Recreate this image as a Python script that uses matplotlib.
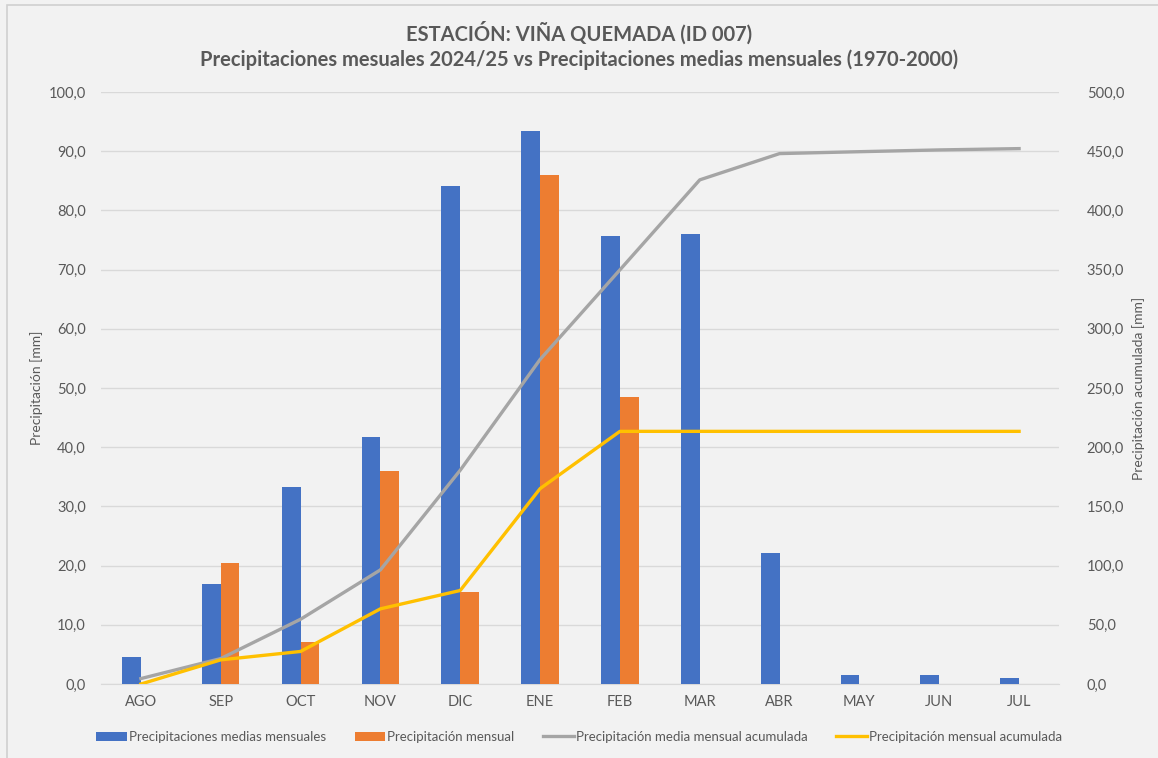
"""Precipitaciones mensuales vs medias, estacion Vina Quemada."""

import numpy as np
import matplotlib
matplotlib.use('Agg')
import matplotlib.pyplot as plt
from matplotlib.ticker import FuncFormatter
from matplotlib.patches import Rectangle

MESES = ['AGO', 'SEP', 'OCT', 'NOV', 'DIC', 'ENE', 'FEB', 'MAR', 'ABR', 'MAY', 'JUN', 'JUL']
MEDIAS = [4.6, 16.9, 33.2, 41.7, 84.2, 93.5, 75.7, 76.0, 22.2, 1.6, 1.5, 1.1]
MENSUAL = [0.0, 20.4, 7.1, 36.0, 15.5, 86.0, 48.4]  # hasta FEB
MENSUAL_ACUM = [0.0, 20.4, 27.5, 63.5, 79.0, 165.0, 213.4, 213.4, 213.4, 213.4, 213.4, 213.4]

AZUL = '#4472C4'
NARANJA = '#ED7D31'
GRIS = '#A5A5A5'
AMARILLO = '#FFC000'
TEXTO = '#595959'
FONDO = '#F2F2F2'

plt.rcParams['font.family'] = ['Lato', 'DejaVu Sans']


def coma(v, _pos):
    return '{:.1f}'.format(v).replace('.', ',')


def main():
    fig = plt.figure(figsize=(11.58, 7.58), dpi=100, facecolor=FONDO)
    fig.patches.append(Rectangle((0.006, -0.01), 1.0, 1.003, transform=fig.transFigure,
                                 fill=False, edgecolor='#D0D0D0', lw=1.2))
    ax = fig.add_axes([0.0872, 0.0976, 0.8273, 0.781])
    ax.set_facecolor(FONDO)
    ax2 = ax.twinx()

    x = np.arange(len(MESES))
    w = 0.235
    medias_acum = np.cumsum(MEDIAS)

    ax.bar(x - w / 2, MEDIAS, w, color=AZUL, label='Precipitaciones medias mensuales', zorder=3)
    ax.bar(x[:len(MENSUAL)] + w / 2, MENSUAL, w, color=NARANJA, label='Precipitación mensual', zorder=3)
    ax2.plot(x, medias_acum, color=GRIS, lw=2.4, label='Precipitación media mensual acumulada')
    ax2.plot(x, MENSUAL_ACUM, color=AMARILLO, lw=2.4, label='Precipitación mensual acumulada')

    ax.set_xlim(-0.5, len(MESES) - 0.5)
    ax.set_ylim(0, 100)
    ax2.set_ylim(0, 500)
    ax.set_yticks(np.arange(0, 101, 10))
    ax2.set_yticks(np.arange(0, 501, 50))
    ax.yaxis.set_major_formatter(FuncFormatter(coma))
    ax2.yaxis.set_major_formatter(FuncFormatter(coma))
    ax.set_xticks(x)
    ax.set_xticklabels(MESES)

    ax.grid(axis='y', color='#D9D9D9', lw=1, zorder=0)
    ax.set_axisbelow(True)
    for a in (ax, ax2):
        for s in a.spines.values():
            s.set_visible(False)
        a.tick_params(length=0, colors=TEXTO, labelsize=10.5)
    ax.spines['bottom'].set_visible(True)
    ax.spines['bottom'].set_color('#D9D9D9')
    ax.tick_params(axis='y', pad=11)
    ax2.tick_params(axis='y', pad=20)
    ax.tick_params(axis='x', pad=8)

    ax.set_ylabel('Precipitación [mm]', color=TEXTO, fontsize=10, labelpad=4)
    ax2.set_ylabel('Precipitación acumulada [mm]', color=TEXTO, fontsize=10,
                   rotation=90, labelpad=6)

    fig.text(0.5, 0.957, 'ESTACIÓN: VIÑA QUEMADA (ID 007)', ha='center', va='center',
             fontsize=14.5, fontweight='bold', color=TEXTO)
    fig.text(0.5, 0.921, 'Precipitaciones mesuales 2024/25 vs Precipitaciones medias mensuales (1970-2000)',
             ha='center', va='center', fontsize=14.5, fontweight='bold', color=TEXTO)

    h1, l1 = ax.get_legend_handles_labels()
    h2, l2 = ax2.get_legend_handles_labels()
    fig.legend(h1 + h2, l1 + l2, loc='center', bbox_to_anchor=(0.5, 0.028), ncol=4,
               frameon=False, fontsize=9.5, labelcolor=TEXTO, handlelength=2.3,
               handletextpad=0.15, columnspacing=2.2)

    fig.savefig('out.png', dpi=100, facecolor=FONDO)


if __name__ == '__main__':
    main()
